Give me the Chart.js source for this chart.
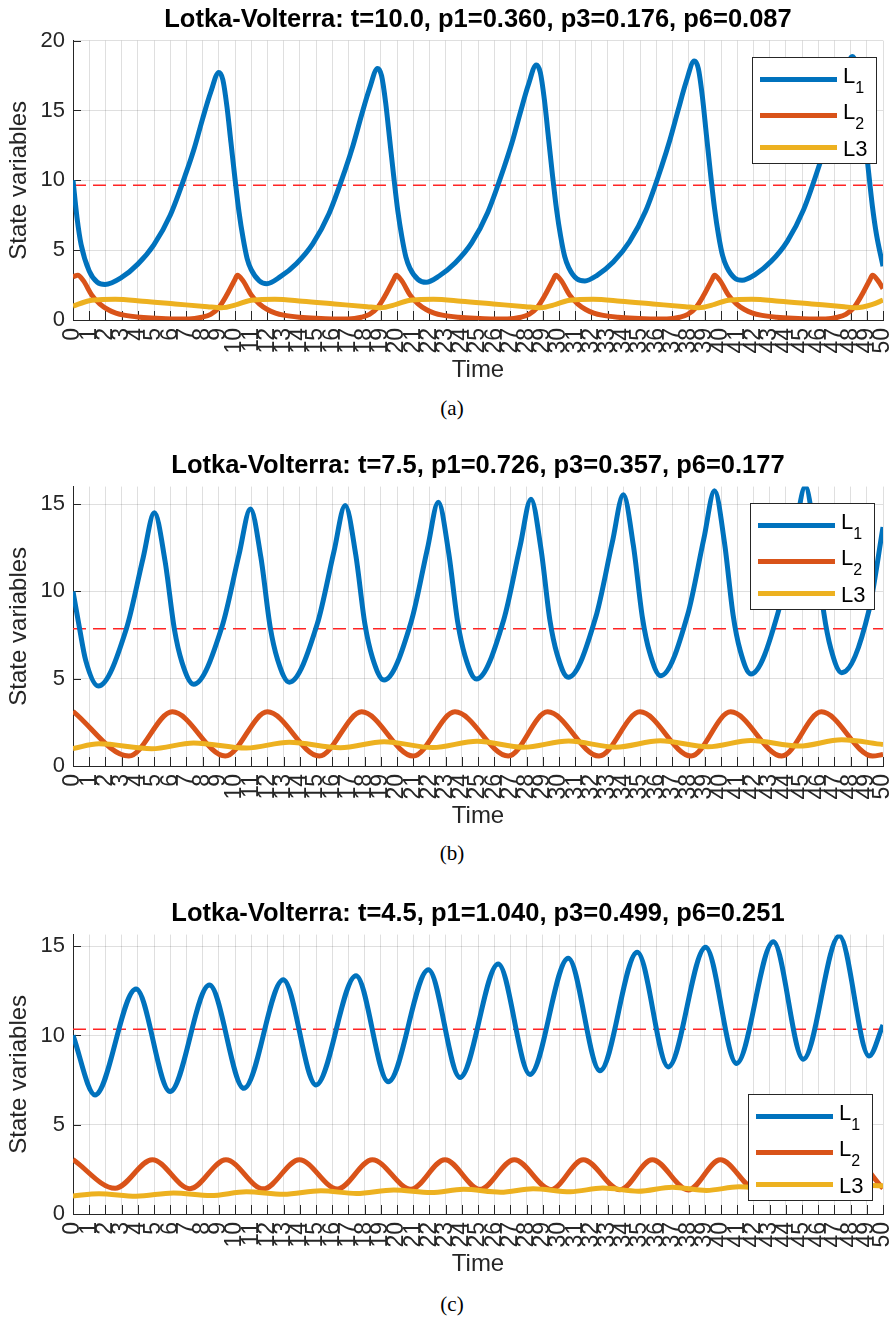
<!DOCTYPE html>
<html>
<head>
<meta charset="utf-8">
<script src="https://cdn.jsdelivr.net/npm/chart.js@4.4.1/dist/chart.umd.min.js"></script>
<style>
  body { margin: 0; background: #fff; width: 895px; height: 1318px; position: relative; overflow: hidden; }
  .panel { position: absolute; left: 0; width: 895px; height: 390px; }
  .cap { position: absolute; width: 60px; text-align: center; font-family: "Liberation Serif", "Times New Roman", serif; font-size: 21px; line-height: 24px; color: #000; }
</style>
</head>
<body>
<div class="panel" style="top:-1px"><canvas id="chartA" width="895" height="390"></canvas></div>
<div class="cap" style="left:422px;top:396px">(a)</div>
<div class="panel" style="top:445px"><canvas id="chartB" width="895" height="390"></canvas></div>
<div class="cap" style="left:422px;top:841px">(b)</div>
<div class="panel" style="top:893px"><canvas id="chartC" width="895" height="390"></canvas></div>
<div class="cap" style="left:422px;top:1292px">(c)</div>
<script>
// tick labels
const timeTicks = [0, 1, 2, 3, 4, 5, 6, 7, 8, 9, 10, 11, 12, 13, 14, 15, 16, 17, 18, 19, 20,
  21, 22, 23, 24, 25, 26, 27, 28, 29, 30, 31, 32, 33, 34, 35, 36, 37, 38, 39, 40,
  41, 42, 43, 44, 45, 46, 47, 48, 49, 50];
const yTicksA = [0, 5, 10, 15, 20];
const yTicksB = [0, 5, 10, 15];
const yTicksC = [0, 5, 10, 15];

const seriesNames = ['L1', 'L2', 'L3'];
const seriesSub = [true, true, false];
const seriesColors = ['#0072BD', '#D95319', '#EDB120'];

// (a) t=10.0
const titleA = 'Lotka-Volterra: t=10.0, p1=0.360, p3=0.176, p6=0.087';
const refA = 9.65;
const aL1t = [0, 0.25, 0.5, 1.0, 1.5, 1.98, 3.0, 4.0, 5.0, 6.0, 7.0, 7.5, 8.0, 8.5, 9.0, 9.25, 9.5, 9.75, 10.0, 10.25, 10.5, 10.75, 11.0, 11.5, 11.96,
  12.8, 13.8, 14.8, 15.8, 16.8, 17.3, 17.8, 18.3, 18.8, 19.05, 19.3, 19.55, 19.8, 20.05, 20.3, 20.55, 20.8, 21.3, 21.8,
  22.6, 23.6, 24.6, 25.6, 26.6, 27.1, 27.6, 28.1, 28.6, 28.85, 29.1, 29.35, 29.6, 29.85, 30.1, 30.35, 30.6, 31.1, 31.6,
  32.35, 33.35, 34.35, 35.35, 36.35, 36.85, 37.35, 37.85, 38.35, 38.6, 38.85, 39.1, 39.35, 39.6, 39.85, 40.1, 40.35, 40.85, 41.3,
  42.1, 43.1, 44.1, 45.1, 46.1, 46.6, 47.1, 47.6, 48.1, 48.35, 48.6, 48.85, 49.1, 49.35, 49.6, 50];
const aL1v = [10.0, 7.3, 5.4, 3.5, 2.7, 2.55, 3.05, 4.0, 5.4, 7.5, 10.6, 12.35, 14.4, 16.3, 17.72, 17.2, 15.3, 12.7, 10.1, 7.7, 5.85, 4.4, 3.6, 2.8, 2.6,
  3.1, 4.05, 5.45, 7.6, 10.75, 12.55, 14.62, 16.55, 18.0, 17.47, 15.55, 12.9, 10.25, 7.8, 5.95, 4.5, 3.7, 2.9, 2.7,
  3.15, 4.1, 5.5, 7.7, 10.9, 12.7, 14.8, 16.8, 18.25, 17.7, 15.75, 13.05, 10.35, 7.9, 6.0, 4.55, 3.75, 2.95, 2.8,
  3.2, 4.15, 5.6, 7.8, 11.05, 12.9, 15.0, 17.05, 18.54, 18.0, 16.0, 13.25, 10.5, 8.0, 6.05, 4.6, 3.8, 3.0, 2.85,
  3.25, 4.2, 5.65, 7.9, 11.2, 13.1, 15.25, 17.35, 18.86, 18.3, 16.3, 13.5, 10.7, 8.1, 6.1, 3.85];
const aL2t = [0, 0.3, 0.65, 1.15, 1.65, 2.15, 2.65, 3.15, 4.15, 5.15, 6.15, 7.15, 7.95, 8.5, 9.0, 9.5, 10.0,
  10.15, 10.5, 11.0, 11.5, 12.0, 12.5, 13.0, 14.0, 15.0, 16.0, 17.0, 17.8, 18.3, 18.8, 19.3, 19.8,
  19.95, 20.3, 20.8, 21.3, 21.8, 22.3, 22.8, 23.8, 24.8, 25.8, 26.8, 27.65, 28.15, 28.65, 29.15, 29.65,
  29.8, 30.15, 30.65, 31.15, 31.65, 32.15, 32.65, 33.65, 34.65, 35.65, 36.65, 37.45, 37.95, 38.45, 38.95, 39.45,
  39.6, 39.95, 40.45, 40.95, 41.45, 41.95, 42.45, 43.45, 44.45, 45.45, 46.45, 47.2, 47.7, 48.2, 48.7, 49.2,
  49.35, 49.7, 50];
const aL2v = [3.1, 3.2, 2.8, 1.8, 1.15, 0.75, 0.5, 0.35, 0.2, 0.12, 0.08, 0.08, 0.2, 0.4, 0.88, 1.8, 2.9,
  3.2, 2.8, 1.8, 1.15, 0.75, 0.5, 0.35, 0.2, 0.12, 0.08, 0.08, 0.2, 0.4, 0.88, 1.8, 2.9,
  3.2, 2.8, 1.8, 1.15, 0.75, 0.5, 0.35, 0.2, 0.12, 0.08, 0.08, 0.2, 0.4, 0.88, 1.8, 2.9,
  3.2, 2.8, 1.8, 1.15, 0.75, 0.5, 0.35, 0.2, 0.12, 0.08, 0.08, 0.2, 0.4, 0.88, 1.8, 2.9,
  3.2, 2.8, 1.8, 1.15, 0.75, 0.5, 0.35, 0.2, 0.12, 0.08, 0.08, 0.2, 0.4, 0.88, 1.8, 2.9,
  3.2, 2.8, 2.25];
const aL3t = [0, 1.0, 1.8, 2.6, 4.3, 6.3, 8.3, 9.15,
  10.15, 10.85, 11.65, 12.45, 14.15, 16.15, 18.15, 18.95,
  19.95, 20.65, 21.45, 22.25, 23.95, 25.95, 27.95, 28.8,
  29.8, 30.5, 31.3, 32.1, 33.8, 35.8, 37.8, 38.6,
  39.6, 40.3, 41.1, 41.9, 43.6, 45.6, 47.6, 48.35,
  49.35, 50];
const aL3v = [1.0, 1.38, 1.47, 1.48, 1.35, 1.15, 0.95, 0.88,
  1.12, 1.38, 1.47, 1.48, 1.35, 1.15, 0.95, 0.88,
  1.12, 1.38, 1.47, 1.48, 1.35, 1.15, 0.95, 0.88,
  1.12, 1.38, 1.47, 1.48, 1.35, 1.15, 0.95, 0.88,
  1.12, 1.38, 1.47, 1.48, 1.35, 1.15, 0.95, 0.88,
  1.12, 1.42];

// (b) t=7.5
const titleB = 'Lotka-Volterra: t=7.5, p1=0.726, p3=0.357, p6=0.177';
const refB = 7.86;
const bL1t = [0, 0.4, 0.78, 1.56,
  3.29, 4.33, 5.02, 5.68, 6.26, 6.72, 7.45,
  9.2, 10.25, 10.95, 11.6, 12.17, 12.63, 13.35,
  15.08, 16.11, 16.8, 17.45, 18.02, 18.48, 19.2,
  20.88, 21.88, 22.55, 23.18, 23.75, 24.2, 24.9,
  26.59, 27.6, 28.27, 28.89, 29.44, 29.88, 30.57,
  32.27, 33.29, 33.97, 34.59, 35.15, 35.59, 36.28,
  37.94, 38.94, 39.6, 40.21, 40.75, 41.18, 41.85,
  43.53, 44.53, 45.2, 45.81, 46.35, 46.78, 47.45,
  49.13, 50];
const bL1v = [10.0, 7.9, 6.06, 4.58,
  7.85, 11.92, 14.5, 11.75, 7.82, 5.96, 4.68,
  7.99, 12.11, 14.72, 11.94, 7.97, 6.09, 4.8,
  8.14, 12.29, 14.92, 12.12, 8.12, 6.22, 4.92,
  8.28, 12.45, 15.1, 12.27, 8.22, 6.3, 4.98,
  8.38, 12.6, 15.28, 12.42, 8.34, 6.41, 5.08,
  8.53, 12.81, 15.53, 12.63, 8.49, 6.52, 5.17,
  8.66, 13.01, 15.76, 12.82, 8.63, 6.63, 5.27,
  8.81, 13.2, 15.99, 13.01, 8.75, 6.72, 5.34,
  8.9, 13.68];
const bL2t = [0, 3.45, 6.13, 9.4, 12.0, 15.2, 17.82, 21.0, 23.58, 26.87, 29.3, 32.47, 35.0, 38.15, 40.6, 43.75, 46.2, 49.36, 50];
const bL2v = [3.13, 0.57, 3.1, 0.57, 3.1, 0.57, 3.1, 0.57, 3.1, 0.57, 3.1, 0.57, 3.1, 0.57, 3.1, 0.57, 3.1, 0.57, 0.66];
const bL3t = [0, 1.6, 4.86, 7.45, 10.7, 13.35, 16.5, 19.2, 22.2, 24.95, 27.8, 30.6, 33.5, 36.25, 39.2, 41.85, 44.8, 47.45, 50];
const bL3v = [1.0, 1.27, 0.99, 1.32, 1.03, 1.36, 1.05, 1.39, 1.06, 1.42, 1.07, 1.43, 1.08, 1.44, 1.1, 1.46, 1.14, 1.5, 1.23];

// (c) t=4.5
const titleC = 'Lotka-Volterra: t=4.5, p1=1.040, p3=0.499, p6=0.251';
const refC = 10.35;
const cL1t = [0, 1.36, 3.89, 5.99, 8.42, 10.55, 12.98, 15.0, 17.47, 19.46, 21.94, 23.89, 26.25,
  28.21, 30.57, 32.53, 34.83, 36.75, 39.05, 40.96, 43.23, 45.08, 47.3, 49.14, 50];
const cL1v = [10.0, 6.67, 12.6, 6.86, 12.82, 7.04, 13.12, 7.23, 13.35, 7.41, 13.68, 7.65, 14.01,
  7.82, 14.33, 8.02, 14.66, 8.24, 14.94, 8.43, 15.25, 8.67, 15.58, 8.85, 10.59];
const cL2t = [0, 2.6, 4.9, 7.22, 9.44, 11.75, 13.97, 16.32, 18.48, 20.86, 22.96, 25.12,
  27.24, 29.5, 31.5, 33.77, 35.76, 37.98, 39.96, 42.2, 44.1, 46.3, 48.2, 50];
const cL2v = [3.05, 1.44, 3.04, 1.42, 3.04, 1.41, 3.04, 1.4, 3.04, 1.39, 3.04, 1.38,
  3.04, 1.37, 3.04, 1.36, 3.04, 1.35, 3.04, 1.34, 3.04, 1.34, 3.04, 1.44];
const cL3t = [0, 1.6, 3.9, 6.2, 8.5, 10.7, 13.0, 15.3, 17.5, 19.8, 22.1, 24.1, 26.4,
  28.4, 30.7, 32.7, 34.9, 37.0, 39.1, 41.1, 43.3, 45.2, 47.4, 49.3, 50];
const cL3v = [1.01, 1.14, 1.0, 1.18, 1.03, 1.24, 1.1, 1.3, 1.15, 1.35, 1.2, 1.38, 1.22,
  1.42, 1.25, 1.45, 1.28, 1.5, 1.32, 1.52, 1.36, 1.55, 1.4, 1.6, 1.58];

Chart.defaults.font.family = '"Liberation Sans", Arial, Helvetica, sans-serif';
Chart.defaults.color = '#262626';

const axisColor = '#262626';
const gridColor = 'rgba(38,38,38,0.15)';

const zip = (ts, vs) => ts.slice(0, Math.min(ts.length, vs.length)).map((t, i) => ({ x: t, y: vs[i] }));

// MATLAB-style ticks pointing into the axes
const inwardTicks = {
  id: 'inwardTicks',
  beforeDatasetsDraw(chart) {
    const { ctx, chartArea: a, scales: { x, y } } = chart;
    ctx.save();
    ctx.strokeStyle = axisColor;
    ctx.lineWidth = 1;
    ctx.beginPath();
    x.ticks.forEach((t) => {
      const px = Math.round(x.getPixelForValue(t.value)) + 0.5;
      ctx.moveTo(px, a.bottom);
      ctx.lineTo(px, a.bottom - 9);
    });
    y.ticks.forEach((t) => {
      const py = Math.round(y.getPixelForValue(t.value)) + 0.5;
      ctx.moveTo(a.left, py);
      ctx.lineTo(a.left + 8, py);
    });
    ctx.stroke();
    ctx.restore();
  },
};

// legend box with subscripts
const lvLegend = {
  id: 'lvLegend',
  afterDraw(chart, args, opts) {
    const { ctx, chartArea: a } = chart;
    const w = 124, h = 106;
    const left = Math.round(a.right - opts.right - w);
    const top = Math.round(opts.bottom != null ? a.bottom - opts.bottom - h : a.top + opts.top);
    ctx.save();
    ctx.fillStyle = '#fff';
    ctx.fillRect(left, top, w, h);
    ctx.strokeStyle = axisColor;
    ctx.lineWidth = 1;
    ctx.strokeRect(left + 0.5, top + 0.5, w, h);
    const rows = [22.5, 58.5, 90.5];
    seriesNames.forEach((name, i) => {
      const ly = top + rows[i];
      ctx.strokeStyle = seriesColors[i];
      ctx.lineWidth = 5;
      ctx.beginPath();
      ctx.moveTo(left + 8, ly);
      ctx.lineTo(left + 85, ly);
      ctx.stroke();
      ctx.fillStyle = '#000';
      ctx.textAlign = 'left';
      ctx.textBaseline = 'alphabetic';
      if (seriesSub[i]) {
        ctx.font = '22px "Liberation Sans", Arial, sans-serif';
        ctx.fillText(name[0], left + 91, ly + 3.5);
        const lw = ctx.measureText(name[0]).width;
        ctx.font = '16px "Liberation Sans", Arial, sans-serif';
        ctx.fillText(name.slice(1), left + 91 + lw, ly + 13.5);
      } else {
        ctx.font = '22px "Liberation Sans", Arial, sans-serif';
        ctx.fillText(name, left + 91, ly + 8);
      }
    });
    ctx.restore();
  },
};

const lineSet = (label, data, i) => ({
  label,
  data,
  borderColor: seriesColors[i],
  borderWidth: 5,
  pointRadius: 0,
  fill: false,
  cubicInterpolationMode: 'monotone',
  order: 2 - i,
});

function renderPanel(canvasId, title, yMax, yTicks, refLevel, l1, l2, l3, legendPos) {
  const ctx = document.getElementById(canvasId).getContext('2d');
  return new Chart(ctx, {
    type: 'line',
    data: {
      datasets: [
        lineSet(seriesNames[0], l1, 0),
        lineSet(seriesNames[1], l2, 1),
        lineSet(seriesNames[2], l3, 2),
        {
          label: 'ref',
          data: [{ x: 0, y: refLevel }, { x: 50, y: refLevel }],
          borderColor: '#ff2424',
          borderWidth: 1.4,
          borderDash: [13, 7],
          pointRadius: 0,
          order: 3,
        },
      ],
    },
    options: {
      responsive: false,
      animation: false,
      layout: { padding: { left: 0, right: 12, top: 0, bottom: 0 } },
      plugins: {
        legend: { display: false },
        tooltip: { enabled: false },
        title: {
          display: true,
          text: title,
          fullSize: false,
          color: '#000',
          font: { size: 25.5, weight: 'bold' },
          lineHeight: 1.1,
          padding: { top: 6, bottom: 5 },
        },
        lvLegend: legendPos,
      },
      scales: {
        x: {
          type: 'linear',
          min: 0,
          max: 50,
          afterBuildTicks: (s) => { s.ticks = timeTicks.map((v) => ({ value: v })); },
          afterFit: (s) => { s.height = 69; s.paddingLeft = 0; s.paddingRight = 0; },
          grid: { color: gridColor, drawTicks: false },
          border: { display: true, color: axisColor, width: 1 },
          ticks: { autoSkip: false, minRotation: 90, maxRotation: 90, padding: 8, color: axisColor, font: { size: 23 } },
          title: { display: true, text: 'Time', color: axisColor, font: { size: 24 }, padding: { top: 0, bottom: 4.6 } },
        },
        y: {
          min: 0,
          max: yMax,
          afterBuildTicks: (s) => { s.ticks = yTicks.map((v) => ({ value: v })); },
          afterFit: (s) => { s.width = 73; },
          grid: { color: gridColor, drawTicks: false },
          border: { display: true, color: axisColor, width: 1 },
          ticks: { padding: 8, color: axisColor, font: { size: 22 } },
          title: { display: true, text: 'State variables', color: axisColor, font: { size: 24 }, padding: { top: 5, bottom: 0 } },
        },
      },
    },
    plugins: [inwardTicks, lvLegend],
  });
}

renderPanel('chartA', titleA, 20, yTicksA, refA,
  zip(aL1t, aL1v), zip(aL2t, aL2v), zip(aL3t, aL3v), { right: 7, top: 16 });
renderPanel('chartB', titleB, 16, yTicksB, refB,
  zip(bL1t, bL1v), zip(bL2t, bL2v), zip(bL3t, bL3v), { right: 9, top: 16.7 });
renderPanel('chartC', titleC, 15.65, yTicksC, refC,
  zip(cL1t, cL1v), zip(cL2t, cL2v), zip(cL3t, cL3v), { right: 11, bottom: 14 });
</script>
</body>
</html>
